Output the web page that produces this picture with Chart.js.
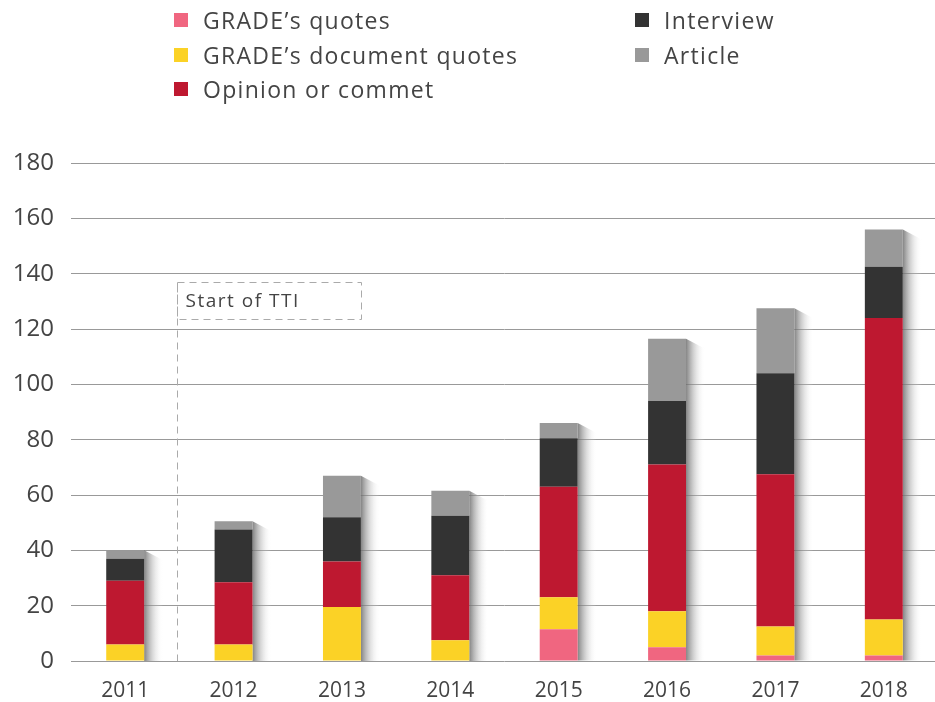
<!DOCTYPE html>
<html>
<head>
<meta charset="utf-8">
<script src="https://cdn.jsdelivr.net/npm/chart.js@4.4.1/dist/chart.umd.min.js"></script>
<style>
  html, body { margin: 0; padding: 0; background: #fff; overflow: hidden; }
  #wrap { position: relative; width: 938px; height: 702px; }
  #legend { position: absolute; left: 0; top: 0; width: 935px; height: 110px; font-family: "Open Sans", sans-serif; font-size: 23px; letter-spacing: 1.3px; color: #444; }
  .item { position: absolute; display: flex; align-items: center; height: 30px; }
  .box { width: 14px; height: 14px; margin-right: 15px; }
</style>
</head>
<body>
<div id="wrap">
  <canvas id="chart"></canvas>
  <div id="legend"></div>
</div>
<script>
const years = ["2011", "2012", "2013", "2014", "2015", "2016", "2017", "2018"];

const seriesLabels = ["GRADE’s quotes", "GRADE’s document quotes", "Opinion or commet", "Interview", "Article"];
const seriesColors = ["#F06680", "#FBD226", "#BE1830", "#333333", "#999999"];

const gradeQuotes = [0, 0, 0, 0, 11.5, 5, 2, 2];
const documentQuotes = [6, 6, 19.5, 7.5, 11.5, 13, 10.5, 13];
const opinion = [23, 22.5, 16.5, 23.5, 40, 53, 55, 109];
const interview = [8, 19, 16, 21.5, 17.5, 23, 36.5, 18.5];
const article = [3, 3, 15, 9, 5.5, 22.5, 23.5, 13.5];

const yTicks = [0, 20, 40, 60, 80, 100, 120, 140, 160, 180];

const ttiLabel = "Start of TTI";
const ttiTop = 137;
const ttiBottom = 123.5;

const allSeries = [gradeQuotes, documentQuotes, opinion, interview, article];

// ====== legend (html, two columns) ======
const legendPos = [
  [174, 5], [174, 40], [174, 74],
  [635, 5], [635, 40],
];
const legendEl = document.getElementById("legend");
seriesLabels.forEach((lbl, i) => {
  const it = document.createElement("div");
  it.className = "item";
  it.style.left = legendPos[i][0] + "px";
  it.style.top = legendPos[i][1] + "px";
  it.innerHTML = `<span class="box" style="background:${seriesColors[i]}"></span><span>${lbl}</span>`;
  legendEl.appendChild(it);
});

// ====== shadow to the right of each bar ======
const barShadow = {
  id: "barShadow",
  beforeDatasetsDraw(chart) {
    const ctx = chart.ctx;
    const first = chart.getDatasetMeta(0).data;
    const last = chart.getDatasetMeta(allSeries.length - 1).data;
    ctx.save();
    last.forEach((bar, i) => {
      const right = bar.x + bar.width / 2;
      const top = bar.y;
      const bottom = first[i].base;
      const w = 19;
      const g = ctx.createLinearGradient(right, 0, right + w, 0);
      g.addColorStop(0, "rgba(110,110,110,0.85)");
      g.addColorStop(0.35, "rgba(150,150,150,0.5)");
      g.addColorStop(1, "rgba(255,255,255,0)");
      ctx.fillStyle = g;
      ctx.beginPath();
      ctx.moveTo(right, top);
      ctx.lineTo(right + w, top + 10);
      ctx.lineTo(right + w, bottom);
      ctx.lineTo(right, bottom);
      ctx.closePath();
      ctx.fill();
    });
    ctx.restore();
  },
};

// ====== dashed marker "Start of TTI" ======
const ttiMarker = {
  id: "ttiMarker",
  afterDatasetsDraw(chart) {
    const { ctx, scales } = chart;
    const x = Math.round((scales.x.getPixelForValue(0) + scales.x.getPixelForValue(1)) / 2) - 1.5;
    const yTop = Math.round(scales.y.getPixelForValue(ttiTop)) + 0.5;
    const yBot = Math.round(scales.y.getPixelForValue(ttiBottom)) + 0.5;
    const y0 = scales.y.getPixelForValue(0);
    ctx.save();
    ctx.strokeStyle = "#aaaaaa";
    ctx.lineWidth = 1;
    ctx.setLineDash([7, 5]);
    ctx.beginPath();
    ctx.moveTo(x, yTop);
    ctx.lineTo(x, y0);
    ctx.stroke();
    ctx.strokeRect(x, yTop, 184, yBot - yTop);
    ctx.setLineDash([]);
    ctx.fillStyle = "#444";
    ctx.font = '19px "Open Sans", sans-serif';
    ctx.letterSpacing = "1.5px";
    ctx.textBaseline = "middle";
    ctx.fillText(ttiLabel, x + 8, (yTop + yBot) / 2 + 1);
    ctx.restore();
  },
};

new Chart(document.getElementById("chart"), {
  type: "bar",
  data: {
    labels: years,
    datasets: allSeries.map((d, i) => ({
      label: seriesLabels[i],
      data: d,
      backgroundColor: seriesColors[i],
      borderWidth: 0,
      barPercentage: 0.7,
      categoryPercentage: 0.5,
    })),
  },
  options: {
    responsive: true,
    maintainAspectRatio: false,
    animation: false,
    layout: { padding: { top: 163, left: 0, right: 0, bottom: 0 } },
    plugins: {
      legend: { display: false },
      tooltip: { enabled: false },
    },
    scales: {
      x: {
        stacked: true,
        grid: { display: false, drawTicks: false },
        border: { display: false },
        ticks: { color: "#444", font: { family: "Open Sans", size: 21 }, padding: 17 },
        afterFit(scale) { scale.height = 41; },
      },
      y: {
        stacked: true,
        min: 0,
        max: 180,
        afterBuildTicks(scale) { scale.ticks = yTicks.map((v) => ({ value: v })); },
        grid: { color: "#999999", lineWidth: 1, drawTicks: false },
        border: { display: false },
        ticks: { color: "#444", font: { family: "Open Sans", size: 24 }, padding: 17 },
        afterFit(scale) { scale.width = 71; },
      },
    },
  },
  plugins: [barShadow, ttiMarker],
});
</script>
</body>
</html>
